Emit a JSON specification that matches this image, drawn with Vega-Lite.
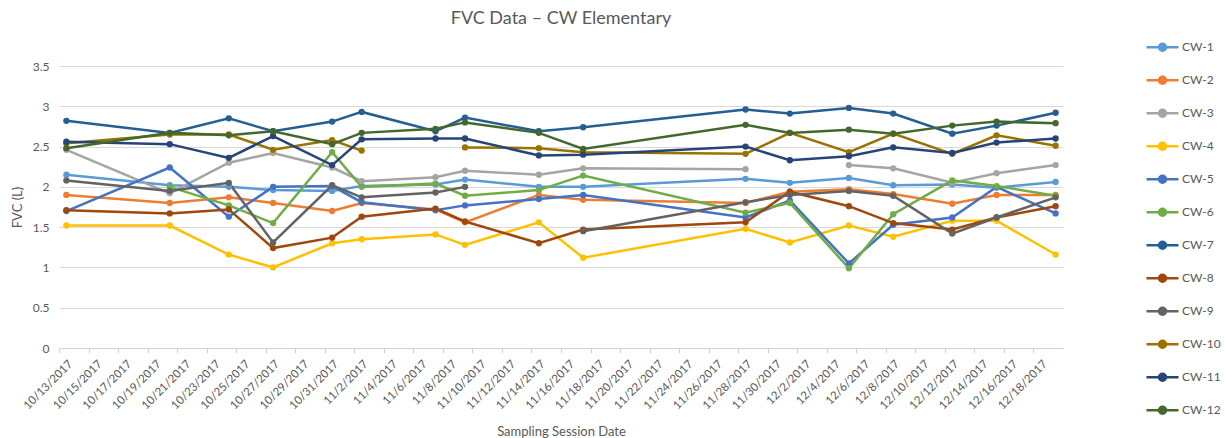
{
  "$schema": "https://vega.github.io/schema/vega-lite/v6.json",
  "autosize": {"type": "none"},
  "width": 1004,
  "height": 282,
  "padding": {"left": 59, "top": 66, "right": 162, "bottom": 90},
  "background": "white",
  "config": {
    "view": {"stroke": null},
    "font": "Lato",
    "mark": {"invalid": "break-paths-show-domains"}
  },
  "title": {
    "text": "FVC Data – CW Elementary",
    "fontSize": 18,
    "fontWeight": "normal",
    "color": "#595959",
    "anchor": "middle",
    "frame": "group",
    "offset": 3
  },
  "data": {
    "values": [
      {"date": "2017-10-13", "series": "CW-1", "fvc": 2.15},
      {"date": "2017-10-13", "series": "CW-2", "fvc": 1.90},
      {"date": "2017-10-13", "series": "CW-3", "fvc": 2.46},
      {"date": "2017-10-13", "series": "CW-4", "fvc": 1.52},
      {"date": "2017-10-13", "series": "CW-5", "fvc": 1.70},
      {"date": "2017-10-13", "series": "CW-6", "fvc": null},
      {"date": "2017-10-13", "series": "CW-7", "fvc": 2.82},
      {"date": "2017-10-13", "series": "CW-8", "fvc": 1.71},
      {"date": "2017-10-13", "series": "CW-9", "fvc": 2.08},
      {"date": "2017-10-13", "series": "CW-10", "fvc": 2.54},
      {"date": "2017-10-13", "series": "CW-11", "fvc": 2.56},
      {"date": "2017-10-13", "series": "CW-12", "fvc": 2.48},

      {"date": "2017-10-20", "series": "CW-1", "fvc": 2.02},
      {"date": "2017-10-20", "series": "CW-2", "fvc": 1.80},
      {"date": "2017-10-20", "series": "CW-3", "fvc": 1.92},
      {"date": "2017-10-20", "series": "CW-4", "fvc": 1.52},
      {"date": "2017-10-20", "series": "CW-5", "fvc": 2.24},
      {"date": "2017-10-20", "series": "CW-6", "fvc": 2.00},
      {"date": "2017-10-20", "series": "CW-7", "fvc": 2.67},
      {"date": "2017-10-20", "series": "CW-8", "fvc": 1.67},
      {"date": "2017-10-20", "series": "CW-9", "fvc": 1.95},
      {"date": "2017-10-20", "series": "CW-10", "fvc": 2.65},
      {"date": "2017-10-20", "series": "CW-11", "fvc": 2.53},
      {"date": "2017-10-20", "series": "CW-12", "fvc": 2.67},

      {"date": "2017-10-24", "series": "CW-1", "fvc": 2.00},
      {"date": "2017-10-24", "series": "CW-2", "fvc": 1.87},
      {"date": "2017-10-24", "series": "CW-3", "fvc": 2.30},
      {"date": "2017-10-24", "series": "CW-4", "fvc": 1.16},
      {"date": "2017-10-24", "series": "CW-5", "fvc": 1.63},
      {"date": "2017-10-24", "series": "CW-6", "fvc": 1.77},
      {"date": "2017-10-24", "series": "CW-7", "fvc": 2.85},
      {"date": "2017-10-24", "series": "CW-8", "fvc": 1.72},
      {"date": "2017-10-24", "series": "CW-9", "fvc": 2.05},
      {"date": "2017-10-24", "series": "CW-10", "fvc": 2.65},
      {"date": "2017-10-24", "series": "CW-11", "fvc": 2.36},
      {"date": "2017-10-24", "series": "CW-12", "fvc": 2.64},

      {"date": "2017-10-27", "series": "CW-1", "fvc": 1.96},
      {"date": "2017-10-27", "series": "CW-2", "fvc": 1.80},
      {"date": "2017-10-27", "series": "CW-3", "fvc": 2.42},
      {"date": "2017-10-27", "series": "CW-4", "fvc": 1.00},
      {"date": "2017-10-27", "series": "CW-5", "fvc": 2.00},
      {"date": "2017-10-27", "series": "CW-6", "fvc": 1.55},
      {"date": "2017-10-27", "series": "CW-7", "fvc": 2.69},
      {"date": "2017-10-27", "series": "CW-8", "fvc": 1.24},
      {"date": "2017-10-27", "series": "CW-9", "fvc": 1.31},
      {"date": "2017-10-27", "series": "CW-10", "fvc": 2.46},
      {"date": "2017-10-27", "series": "CW-11", "fvc": 2.63},
      {"date": "2017-10-27", "series": "CW-12", "fvc": 2.69},

      {"date": "2017-10-31", "series": "CW-1", "fvc": 1.95},
      {"date": "2017-10-31", "series": "CW-2", "fvc": 1.70},
      {"date": "2017-10-31", "series": "CW-3", "fvc": 2.24},
      {"date": "2017-10-31", "series": "CW-4", "fvc": 1.30},
      {"date": "2017-10-31", "series": "CW-5", "fvc": 2.01},
      {"date": "2017-10-31", "series": "CW-6", "fvc": 2.43},
      {"date": "2017-10-31", "series": "CW-7", "fvc": 2.81},
      {"date": "2017-10-31", "series": "CW-8", "fvc": 1.37},
      {"date": "2017-10-31", "series": "CW-9", "fvc": 2.02},
      {"date": "2017-10-31", "series": "CW-10", "fvc": 2.58},
      {"date": "2017-10-31", "series": "CW-11", "fvc": 2.27},
      {"date": "2017-10-31", "series": "CW-12", "fvc": 2.53},

      {"date": "2017-11-02", "series": "CW-1", "fvc": 2.01},
      {"date": "2017-11-02", "series": "CW-2", "fvc": 1.80},
      {"date": "2017-11-02", "series": "CW-3", "fvc": 2.07},
      {"date": "2017-11-02", "series": "CW-4", "fvc": 1.35},
      {"date": "2017-11-02", "series": "CW-5", "fvc": 1.81},
      {"date": "2017-11-02", "series": "CW-6", "fvc": 2.00},
      {"date": "2017-11-02", "series": "CW-7", "fvc": 2.93},
      {"date": "2017-11-02", "series": "CW-8", "fvc": 1.63},
      {"date": "2017-11-02", "series": "CW-9", "fvc": 1.87},
      {"date": "2017-11-02", "series": "CW-10", "fvc": 2.45},
      {"date": "2017-11-02", "series": "CW-11", "fvc": 2.59},
      {"date": "2017-11-02", "series": "CW-12", "fvc": 2.67},

      {"date": "2017-11-07", "series": "CW-1", "fvc": 2.03},
      {"date": "2017-11-07", "series": "CW-2", "fvc": 1.72},
      {"date": "2017-11-07", "series": "CW-3", "fvc": 2.12},
      {"date": "2017-11-07", "series": "CW-4", "fvc": 1.41},
      {"date": "2017-11-07", "series": "CW-5", "fvc": 1.71},
      {"date": "2017-11-07", "series": "CW-6", "fvc": 2.04},
      {"date": "2017-11-07", "series": "CW-7", "fvc": 2.69},
      {"date": "2017-11-07", "series": "CW-8", "fvc": 1.73},
      {"date": "2017-11-07", "series": "CW-9", "fvc": 1.93},
      {"date": "2017-11-07", "series": "CW-10", "fvc": null},
      {"date": "2017-11-07", "series": "CW-11", "fvc": 2.60},
      {"date": "2017-11-07", "series": "CW-12", "fvc": 2.72},

      {"date": "2017-11-09", "series": "CW-1", "fvc": 2.09},
      {"date": "2017-11-09", "series": "CW-2", "fvc": 1.56},
      {"date": "2017-11-09", "series": "CW-3", "fvc": 2.20},
      {"date": "2017-11-09", "series": "CW-4", "fvc": 1.28},
      {"date": "2017-11-09", "series": "CW-5", "fvc": 1.77},
      {"date": "2017-11-09", "series": "CW-6", "fvc": 1.89},
      {"date": "2017-11-09", "series": "CW-7", "fvc": 2.86},
      {"date": "2017-11-09", "series": "CW-8", "fvc": 1.57},
      {"date": "2017-11-09", "series": "CW-9", "fvc": 2.00},
      {"date": "2017-11-09", "series": "CW-10", "fvc": 2.49},
      {"date": "2017-11-09", "series": "CW-11", "fvc": 2.60},
      {"date": "2017-11-09", "series": "CW-12", "fvc": 2.80},

      {"date": "2017-11-14", "series": "CW-1", "fvc": 2.00},
      {"date": "2017-11-14", "series": "CW-2", "fvc": 1.90},
      {"date": "2017-11-14", "series": "CW-3", "fvc": 2.15},
      {"date": "2017-11-14", "series": "CW-4", "fvc": 1.56},
      {"date": "2017-11-14", "series": "CW-5", "fvc": 1.85},
      {"date": "2017-11-14", "series": "CW-6", "fvc": 1.96},
      {"date": "2017-11-14", "series": "CW-7", "fvc": 2.69},
      {"date": "2017-11-14", "series": "CW-8", "fvc": 1.30},
      {"date": "2017-11-14", "series": "CW-9", "fvc": null},
      {"date": "2017-11-14", "series": "CW-10", "fvc": 2.48},
      {"date": "2017-11-14", "series": "CW-11", "fvc": 2.39},
      {"date": "2017-11-14", "series": "CW-12", "fvc": 2.67},

      {"date": "2017-11-17", "series": "CW-1", "fvc": 2.00},
      {"date": "2017-11-17", "series": "CW-2", "fvc": 1.84},
      {"date": "2017-11-17", "series": "CW-3", "fvc": 2.23},
      {"date": "2017-11-17", "series": "CW-4", "fvc": 1.12},
      {"date": "2017-11-17", "series": "CW-5", "fvc": 1.90},
      {"date": "2017-11-17", "series": "CW-6", "fvc": 2.14},
      {"date": "2017-11-17", "series": "CW-7", "fvc": 2.74},
      {"date": "2017-11-17", "series": "CW-8", "fvc": 1.47},
      {"date": "2017-11-17", "series": "CW-9", "fvc": 1.45},
      {"date": "2017-11-17", "series": "CW-10", "fvc": 2.43},
      {"date": "2017-11-17", "series": "CW-11", "fvc": 2.40},
      {"date": "2017-11-17", "series": "CW-12", "fvc": 2.47},

      {"date": "2017-11-28", "series": "CW-1", "fvc": 2.10},
      {"date": "2017-11-28", "series": "CW-2", "fvc": 1.80},
      {"date": "2017-11-28", "series": "CW-3", "fvc": 2.22},
      {"date": "2017-11-28", "series": "CW-4", "fvc": 1.48},
      {"date": "2017-11-28", "series": "CW-5", "fvc": 1.62},
      {"date": "2017-11-28", "series": "CW-6", "fvc": 1.68},
      {"date": "2017-11-28", "series": "CW-7", "fvc": 2.96},
      {"date": "2017-11-28", "series": "CW-8", "fvc": 1.56},
      {"date": "2017-11-28", "series": "CW-9", "fvc": 1.81},
      {"date": "2017-11-28", "series": "CW-10", "fvc": 2.41},
      {"date": "2017-11-28", "series": "CW-11", "fvc": 2.50},
      {"date": "2017-11-28", "series": "CW-12", "fvc": 2.77},

      {"date": "2017-12-01", "series": "CW-1", "fvc": 2.05},
      {"date": "2017-12-01", "series": "CW-2", "fvc": 1.94},
      {"date": "2017-12-01", "series": "CW-3", "fvc": null},
      {"date": "2017-12-01", "series": "CW-4", "fvc": 1.31},
      {"date": "2017-12-01", "series": "CW-5", "fvc": 1.83},
      {"date": "2017-12-01", "series": "CW-6", "fvc": 1.80},
      {"date": "2017-12-01", "series": "CW-7", "fvc": 2.91},
      {"date": "2017-12-01", "series": "CW-8", "fvc": 1.94},
      {"date": "2017-12-01", "series": "CW-9", "fvc": 1.90},
      {"date": "2017-12-01", "series": "CW-10", "fvc": 2.67},
      {"date": "2017-12-01", "series": "CW-11", "fvc": 2.33},
      {"date": "2017-12-01", "series": "CW-12", "fvc": 2.67},

      {"date": "2017-12-05", "series": "CW-1", "fvc": 2.11},
      {"date": "2017-12-05", "series": "CW-2", "fvc": 1.97},
      {"date": "2017-12-05", "series": "CW-3", "fvc": 2.27},
      {"date": "2017-12-05", "series": "CW-4", "fvc": 1.52},
      {"date": "2017-12-05", "series": "CW-5", "fvc": 1.05},
      {"date": "2017-12-05", "series": "CW-6", "fvc": 0.99},
      {"date": "2017-12-05", "series": "CW-7", "fvc": 2.98},
      {"date": "2017-12-05", "series": "CW-8", "fvc": 1.76},
      {"date": "2017-12-05", "series": "CW-9", "fvc": 1.95},
      {"date": "2017-12-05", "series": "CW-10", "fvc": 2.43},
      {"date": "2017-12-05", "series": "CW-11", "fvc": 2.38},
      {"date": "2017-12-05", "series": "CW-12", "fvc": 2.71},

      {"date": "2017-12-08", "series": "CW-1", "fvc": 2.02},
      {"date": "2017-12-08", "series": "CW-2", "fvc": 1.91},
      {"date": "2017-12-08", "series": "CW-3", "fvc": 2.23},
      {"date": "2017-12-08", "series": "CW-4", "fvc": 1.38},
      {"date": "2017-12-08", "series": "CW-5", "fvc": 1.53},
      {"date": "2017-12-08", "series": "CW-6", "fvc": 1.66},
      {"date": "2017-12-08", "series": "CW-7", "fvc": 2.91},
      {"date": "2017-12-08", "series": "CW-8", "fvc": 1.55},
      {"date": "2017-12-08", "series": "CW-9", "fvc": 1.89},
      {"date": "2017-12-08", "series": "CW-10", "fvc": 2.66},
      {"date": "2017-12-08", "series": "CW-11", "fvc": 2.49},
      {"date": "2017-12-08", "series": "CW-12", "fvc": 2.66},

      {"date": "2017-12-12", "series": "CW-1", "fvc": 2.03},
      {"date": "2017-12-12", "series": "CW-2", "fvc": 1.79},
      {"date": "2017-12-12", "series": "CW-3", "fvc": 2.05},
      {"date": "2017-12-12", "series": "CW-4", "fvc": 1.58},
      {"date": "2017-12-12", "series": "CW-5", "fvc": 1.62},
      {"date": "2017-12-12", "series": "CW-6", "fvc": 2.08},
      {"date": "2017-12-12", "series": "CW-7", "fvc": 2.66},
      {"date": "2017-12-12", "series": "CW-8", "fvc": 1.47},
      {"date": "2017-12-12", "series": "CW-9", "fvc": 1.42},
      {"date": "2017-12-12", "series": "CW-10", "fvc": 2.41},
      {"date": "2017-12-12", "series": "CW-11", "fvc": 2.42},
      {"date": "2017-12-12", "series": "CW-12", "fvc": 2.76},

      {"date": "2017-12-15", "series": "CW-1", "fvc": 1.99},
      {"date": "2017-12-15", "series": "CW-2", "fvc": 1.90},
      {"date": "2017-12-15", "series": "CW-3", "fvc": 2.17},
      {"date": "2017-12-15", "series": "CW-4", "fvc": 1.58},
      {"date": "2017-12-15", "series": "CW-5", "fvc": 2.00},
      {"date": "2017-12-15", "series": "CW-6", "fvc": 2.01},
      {"date": "2017-12-15", "series": "CW-7", "fvc": 2.76},
      {"date": "2017-12-15", "series": "CW-8", "fvc": 1.62},
      {"date": "2017-12-15", "series": "CW-9", "fvc": 1.62},
      {"date": "2017-12-15", "series": "CW-10", "fvc": 2.64},
      {"date": "2017-12-15", "series": "CW-11", "fvc": 2.55},
      {"date": "2017-12-15", "series": "CW-12", "fvc": 2.81},

      {"date": "2017-12-19", "series": "CW-1", "fvc": 2.06},
      {"date": "2017-12-19", "series": "CW-2", "fvc": 1.90},
      {"date": "2017-12-19", "series": "CW-3", "fvc": 2.27},
      {"date": "2017-12-19", "series": "CW-4", "fvc": 1.16},
      {"date": "2017-12-19", "series": "CW-5", "fvc": 1.67},
      {"date": "2017-12-19", "series": "CW-6", "fvc": 1.89},
      {"date": "2017-12-19", "series": "CW-7", "fvc": 2.92},
      {"date": "2017-12-19", "series": "CW-8", "fvc": 1.76},
      {"date": "2017-12-19", "series": "CW-9", "fvc": 1.87},
      {"date": "2017-12-19", "series": "CW-10", "fvc": 2.51},
      {"date": "2017-12-19", "series": "CW-11", "fvc": 2.60},
      {"date": "2017-12-19", "series": "CW-12", "fvc": 2.79}
    ]
  },
  "encoding": {
    "x": {
      "field": "date",
      "type": "temporal",
      "scale": {
        "type": "utc",
        "domain": [
          {"year": 2017, "month": 10, "date": 12, "hours": 12, "utc": true},
          {"year": 2017, "month": 12, "date": 19, "hours": 12, "utc": true}
        ]
      },
      "axis": {
        "title": "Sampling Session Date",
        "titleFont": "Lato",
        "titleFontSize": 13,
        "titleFontWeight": "normal",
        "titleColor": "#595959",
        "titlePadding": 14,
        "format": "%-m/%-d/%Y",
        "labelAngle": -45,
        "labelFontSize": 11.5,
        "labelColor": "#595959",
        "labelPadding": 5,
        "labelOverlap": false,
        "labelFlush": false,
        "labelBound": false,
        "tickOffset": -7.38,
        "labelOffset": 7.38,
        "tickColor": "#d0d0d0",
        "tickSize": 5,
        "domainColor": "#d0d0d0",
        "grid": false,
        "values": [
          {"year": 2017, "month": 10, "date": 13, "utc": true},
          {"year": 2017, "month": 10, "date": 15, "utc": true},
          {"year": 2017, "month": 10, "date": 17, "utc": true},
          {"year": 2017, "month": 10, "date": 19, "utc": true},
          {"year": 2017, "month": 10, "date": 21, "utc": true},
          {"year": 2017, "month": 10, "date": 23, "utc": true},
          {"year": 2017, "month": 10, "date": 25, "utc": true},
          {"year": 2017, "month": 10, "date": 27, "utc": true},
          {"year": 2017, "month": 10, "date": 29, "utc": true},
          {"year": 2017, "month": 10, "date": 31, "utc": true},
          {"year": 2017, "month": 11, "date": 2, "utc": true},
          {"year": 2017, "month": 11, "date": 4, "utc": true},
          {"year": 2017, "month": 11, "date": 6, "utc": true},
          {"year": 2017, "month": 11, "date": 8, "utc": true},
          {"year": 2017, "month": 11, "date": 10, "utc": true},
          {"year": 2017, "month": 11, "date": 12, "utc": true},
          {"year": 2017, "month": 11, "date": 14, "utc": true},
          {"year": 2017, "month": 11, "date": 16, "utc": true},
          {"year": 2017, "month": 11, "date": 18, "utc": true},
          {"year": 2017, "month": 11, "date": 20, "utc": true},
          {"year": 2017, "month": 11, "date": 22, "utc": true},
          {"year": 2017, "month": 11, "date": 24, "utc": true},
          {"year": 2017, "month": 11, "date": 26, "utc": true},
          {"year": 2017, "month": 11, "date": 28, "utc": true},
          {"year": 2017, "month": 11, "date": 30, "utc": true},
          {"year": 2017, "month": 12, "date": 2, "utc": true},
          {"year": 2017, "month": 12, "date": 4, "utc": true},
          {"year": 2017, "month": 12, "date": 6, "utc": true},
          {"year": 2017, "month": 12, "date": 8, "utc": true},
          {"year": 2017, "month": 12, "date": 10, "utc": true},
          {"year": 2017, "month": 12, "date": 12, "utc": true},
          {"year": 2017, "month": 12, "date": 14, "utc": true},
          {"year": 2017, "month": 12, "date": 16, "utc": true},
          {"year": 2017, "month": 12, "date": 18, "utc": true}
        ]
      }
    },
    "y": {
      "field": "fvc",
      "type": "quantitative",
      "scale": {"domain": [0, 3.5], "nice": false, "zero": true},
      "axis": {
        "title": "FVC (L)",
        "titleFont": "Lato",
        "titleFontSize": 13,
        "titleFontWeight": "normal",
        "titleColor": "#595959",
        "titlePadding": 8,
        "values": [0, 0.5, 1, 1.5, 2, 2.5, 3, 3.5],
        "format": "~g",
        "labelFontSize": 12,
        "labelColor": "#595959",
        "labelPadding": 10,
        "domain": false,
        "ticks": false,
        "gridColor": "#d9d9d9",
        "gridWidth": 1
      }
    },
    "color": {
      "field": "series",
      "type": "nominal",
      "scale": {
        "domain": ["CW-1", "CW-2", "CW-3", "CW-4", "CW-5", "CW-6", "CW-7", "CW-8", "CW-9", "CW-10", "CW-11", "CW-12"],
        "range": ["#5B9BD5", "#ED7D31", "#A5A5A5", "#FFC000", "#4472C4", "#70AD47", "#255E91", "#9E480E", "#636363", "#997300", "#264478", "#43682B"]
      }
    }
  },
  "layer": [
    {
      "mark": {"type": "line", "strokeWidth": 2.5, "invalid": "break-paths-show-domains"},
      "encoding": {
        "color": {
          "field": "series",
          "type": "nominal",
          "legend": {
            "title": null,
            "orient": "none",
            "legendX": 1086,
            "legendY": -35,
            "padding": 0,
            "symbolType": "M-1,0L1,0M-0.22,0A0.22,0.22,0,1,1,0.22,0A0.22,0.22,0,1,1,-0.22,0Z",
            "symbolSize": 1024,
            "symbolStrokeWidth": 2.5,
            "clipHeight": 32.5,
            "rowPadding": 0,
            "labelFontSize": 12,
            "labelColor": "#595959",
            "labelOffset": 2,
            "encode": {
              "symbols": {
                "update": {
                  "fill": {"scale": "color", "field": "value"},
                  "stroke": {"scale": "color", "field": "value"},
                  "fillOpacity": {"value": 1},
                  "strokeOpacity": {"value": 1}
                }
              }
            }
          }
        }
      }
    },
    {
      "mark": {"type": "point", "filled": true, "size": 40, "opacity": 1},
      "encoding": {
        "color": {"field": "series", "type": "nominal", "legend": null}
      }
    }
  ]
}
